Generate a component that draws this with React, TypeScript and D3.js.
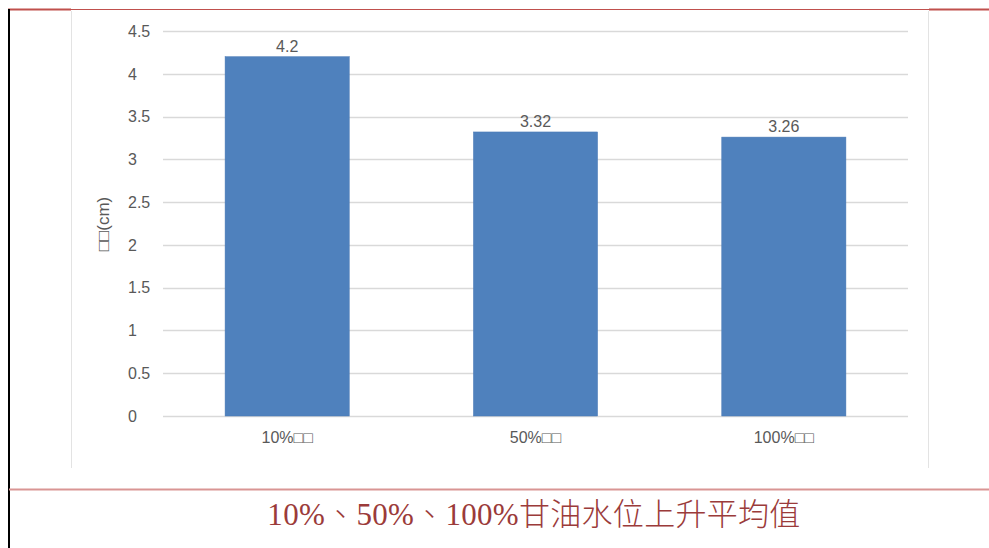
import React from "react";
import * as d3 from "d3";

const categories = ["10%\u25A1\u25A1", "50%\u25A1\u25A1", "100%\u25A1\u25A1"];
const values = [4.2, 3.32, 3.26];
const valueLabels = ["4.2", "3.32", "3.26"];
const yTicks = [0, 0.5, 1, 1.5, 2, 2.5, 3, 3.5, 4, 4.5];
const yTitle = "\u25A1\u25A1(cm)";
const caption = "10%、50%、100%甘油水位上升平均值";

const W = 989;
const H = 548;
const plot = { left: 163, right: 908, top: 31, bottom: 416 };

export default function App() {
  const x = d3
    .scaleBand<string>()
    .domain(categories)
    .range([plot.left, plot.right])
    .paddingInner(0.5)
    .paddingOuter(0.25);
  const y = d3.scaleLinear().domain([0, 4.5]).range([plot.bottom, plot.top]);
  const font = "'Liberation Sans', 'DejaVu Sans', sans-serif";
  const grey = "#595959";

  return (
    <svg
      width={W}
      height={H}
      style={{ position: "absolute", left: 0, top: 0, background: "#fff" }}
    >
      {/* page rules */}
      <line x1={8} x2={W} y1={9.5} y2={9.5} stroke="#c0504d" strokeWidth={1.2} />
      <line x1={8} x2={71} y1={9.5} y2={9.5} stroke="#c0504d" strokeWidth={2} />
      <line x1={929} x2={W} y1={9.5} y2={9.5} stroke="#c0504d" strokeWidth={2} />
      <line x1={9} x2={9} y1={9} y2={H} stroke="#000" strokeWidth={2} />
      <line x1={9} x2={W} y1={489.5} y2={489.5} stroke="#d99594" strokeWidth={2} />

      {/* chart frame */}
      <line x1={71.5} x2={71.5} y1={11} y2={468} stroke="#e3e3e3" strokeWidth={1} />
      <line x1={928.5} x2={928.5} y1={11} y2={468} stroke="#e3e3e3" strokeWidth={1} />

      {/* gridlines and y ticks */}
      {yTicks.map((t) => (
        <g key={t}>
          <line
            x1={plot.left}
            x2={plot.right}
            y1={Math.round(y(t)) + 0.5}
            y2={Math.round(y(t)) + 0.5}
            stroke="#d9d9d9"
            strokeWidth={1.5}
          />
          <text
            x={128}
            y={y(t)}
            dy="0.36em"
            fontFamily={font}
            fontSize={16}
            fill={grey}
          >
            {String(t)}
          </text>
        </g>
      ))}

      {/* bars */}
      {categories.map((c, i) => (
        <g key={c}>
          <rect
            x={x(c)}
            y={y(values[i])}
            width={x.bandwidth()}
            height={y(0) - y(values[i])}
            fill="#4f81bd"
            stroke="#4a7ab5"
            strokeWidth={0.5}
          />
          <text
            x={(x(c) as number) + x.bandwidth() / 2}
            y={y(values[i]) - 5}
            textAnchor="middle"
            fontFamily={font}
            fontSize={16}
            fill={grey}
          >
            {valueLabels[i]}
          </text>
          <text
            x={(x(c) as number) + x.bandwidth() / 2}
            y={443}
            textAnchor="middle"
            fontFamily={font}
            fontSize={16}
            fill={grey}
          >
            {c}
          </text>
        </g>
      ))}

      {/* y axis title */}
      <text
        transform={`translate(109, ${224}) rotate(-90)`}
        textAnchor="middle"
        fontFamily={font}
        fontSize={17}
        fill={grey}
      >
        {yTitle}
      </text>

      {/* caption */}
      <text
        x={534}
        y={525}
        textAnchor="middle"
        fontFamily="'Liberation Serif', 'Noto Sans CJK TC', serif"
        fontSize={31}
        fontWeight={300}
        letterSpacing={0.3}
        fill="#9b3b3a"
      >
        {caption}
      </text>
    </svg>
  );
}
